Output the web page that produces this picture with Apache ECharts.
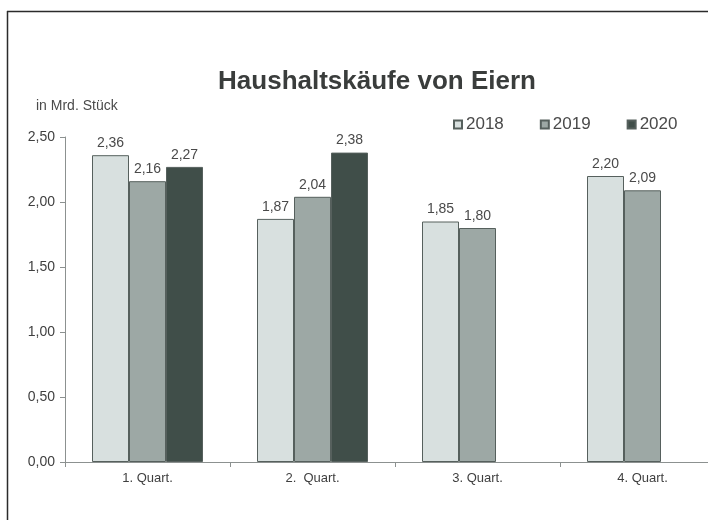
<!DOCTYPE html>
<html>
<head>
<meta charset="utf-8">
<title>Haushaltskäufe von Eiern</title>
<script src="https://cdn.jsdelivr.net/npm/echarts@6/dist/echarts.min.js"></script>
<style>
  html, body { margin: 0; padding: 0; background: #ffffff; overflow: hidden; }
  /* the plot runs past the right edge of the window, as on the printed page */
  #chart { width: 730px; height: 520px; }
</style>
</head>
<body>
<div id="chart"></div>
<script>
// Quarterly household egg purchases, billions of pieces
const quarters = ['1. Quart.', '2.  Quart.', '3. Quart.', '4. Quart.'];
const years = ['2018', '2019', '2020'];
const values2018 = [2.36, 1.87, 1.85, 2.20];
const values2019 = [2.16, 2.04, 1.80, 2.09];
const values2020 = [2.27, 2.38, null, null];
const yTicks = [0, 0.5, 1.0, 1.5, 2.0, 2.5];

const fills = ['#d8e0df', '#9da8a5', '#404e49'];
const fmt = v => v.toFixed(2).replace('.', ',');
const FONT = '"Liberation Sans", Arial, sans-serif';

function makeSeries(name, data, color) {
  return {
    name: name,
    type: 'bar',
    data: data,
    barWidth: 37,
    barGap: '0%',
    itemStyle: { color: color, borderColor: '#56605d', borderWidth: 1 },
    label: {
      show: true,
      position: 'top',
      distance: 5,
      fontFamily: FONT,
      fontSize: 14,
      color: '#4a4a4a',
      formatter: p => fmt(p.value)
    }
  };
}

const chart = echarts.init(document.getElementById('chart'), null, { renderer: 'canvas' });
chart.setOption({
  backgroundColor: '#ffffff',
  animation: false,
  title: [
    {
      text: 'Haushaltskäufe von Eiern',
      left: 372, top: 64, textAlign: 'center',
      textStyle: { fontFamily: FONT, fontSize: 26, fontWeight: 'bold', color: '#3a3d3c' }
    },
    {
      text: 'in Mrd. Stück',
      left: 31, top: 94,
      textStyle: { fontFamily: FONT, fontSize: 14, fontWeight: 'normal', color: '#4a4a4a' }
    }
  ],
  legend: {
    data: years,
    left: 448, top: 111,
    itemWidth: 8, itemHeight: 8, itemGap: 36,
    icon: 'rect',
    textStyle: { fontFamily: FONT, fontSize: 17, color: '#4a4a4a', padding: [0, 0, 0, -1] }
  },
  grid: { left: 65, top: 137, width: 660, bottom: 58, containLabel: false },
  xAxis: {
    type: 'category',
    data: quarters,
    axisLine: { lineStyle: { color: '#8c9190', width: 1 } },
    axisTick: { show: true, length: 5, lineStyle: { color: '#8c9190' } },
    axisLabel: { fontFamily: FONT, fontSize: 13, color: '#3f3f3f', margin: 10 }
  },
  yAxis: {
    type: 'value',
    min: yTicks[0], max: yTicks[yTicks.length - 1], interval: 0.5,
    axisLine: { show: true, lineStyle: { color: '#8c9190', width: 1 } },
    axisTick: { show: true, length: 5, lineStyle: { color: '#8c9190' } },
    splitLine: { show: false },
    axisLabel: { fontFamily: FONT, fontSize: 14, color: '#3f3f3f', margin: 10, formatter: v => fmt(v) }
  },
  series: [
    makeSeries(years[0], values2018, fills[0]),
    makeSeries(years[1], values2019, fills[1]),
    makeSeries(years[2], values2020, fills[2])
  ],
  graphic: [
    // frame lines along the top and left edges
    { type: 'line', shape: { x1: 7, y1: 11.5, x2: 730, y2: 11.5 }, style: { stroke: '#2b2b2b', lineWidth: 1.5 } },
    { type: 'line', shape: { x1: 7.5, y1: 11, x2: 7.5, y2: 520 }, style: { stroke: '#2b2b2b', lineWidth: 1.5 } }
  ]
});
</script>
</body>
</html>
